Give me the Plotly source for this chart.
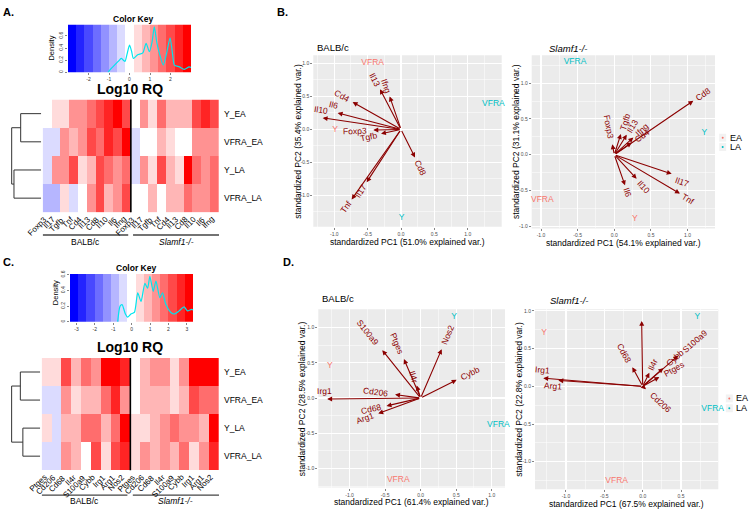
import math
import numpy as np
import plotly.graph_objects as go

W, H = 750, 510
FONT = "Liberation Sans, Arial, Helvetica, sans-serif"
DARKRED = "#8B0000"
EA_COL = "#F8766D"
LA_COL = "#00BFC4"
PANEL_BG = "#EBEBEB"

# ====================== DATA ======================
samples = ["Y_EA", "VFRA_EA", "Y_LA", "VFRA_LA"]
genes_A = ["Foxp3", "Il17", "Tgfb", "Tnf", "Cd4", "Il13", "Cd8", "Il10", "Il6", "Ifng"]
genes_C = ["Ptges", "Cd206", "Cd68", "Il4r", "S100a9", "Cybb", "Irg1", "Arg1", "Nos2"]
strains = ["BALB/c", "<i>Slamf1-/-</i>"]

# Heatmap A (log10 RQ): 10 BALB/c genes then 10 Slamf1-/- genes
heatA_Y_EA    = [0.0, 0.4, 0.4, 1.2, 1.2, 1.6, 2.0, 2.4, 2.8, 2.0,   0.0, 1.2, 0.4, 1.6, 0.8, 0.8, 0.8, 2.0, 2.4, 2.0]
heatA_VFRA_EA = [-0.4, -0.4, 1.2, 0.8, 1.2, 2.0, 1.6, 2.4, 2.0, 2.8, -0.4, 0.0, 0.0, 0.8, 0.4, 0.0, 0.0, 1.2, 1.2, 1.2]
heatA_Y_LA    = [-0.4, 1.2, 1.2, 2.0, 0.4, 0.8, 2.0, 1.6, 1.2, 1.6,  -0.4, 1.2, 0.4, 2.0, 0.8, 0.4, 2.8, 1.6, 1.2, 1.6]
heatA_VFRA_LA = [-0.8, -0.8, 0.4, -0.4, 0.0, 1.2, 2.0, 0.8, 1.2, 2.0, 0.0, 0.0, 0.8, 0.0, 0.8, 0.8, 1.6, 1.2, 1.2, 1.6]

# Heatmap C (log10 RQ): 9 BALB/c genes then 9 Slamf1-/- genes
heatC_Y_EA    = [0.45, 0.45, 2.25, 0.9, 1.8, 1.35, 3.15, 3.15, 2.7,    0.0, 0.9, 1.35, 1.35, 0.45, 1.35, 3.15, 3.15, 3.15]
heatC_VFRA_EA = [-0.45, -0.45, 1.35, 0.45, 0.9, 0.9, 1.8, 2.7, 1.35,  0.0, 0.9, 0.9, 0.9, 0.45, 0.9, 2.25, 1.8, 1.8]
heatC_Y_LA    = [0.45, -0.45, 0.9, 0.9, 1.8, 1.8, 0.9, 1.8, 3.15,     0.45, 0.45, 0.9, 1.35, 1.8, 1.35, 1.35, 0.9, 3.15]
heatC_VFRA_LA = [-0.45, -0.45, 1.35, 0.9, 0.0, 2.25, 0.45, 2.25, 2.7, 0.45, 1.35, 0.9, 1.35, 0.9, 1.8, 0.45, 1.35, 2.7]

# Colour keys: value range of the 15 colour bands
keyA_range = [-3.0, 3.0]
keyC_range = [-3.35, 3.35]
n_bands = 15

# Density curves in the colour keys
densA_x = [-1.05, -0.9, -0.73, -0.55, -0.40, -0.30, -0.22, -0.12, 0.0, 0.1, 0.19, 0.4, 0.65, 0.81,
           0.97, 1.1, 1.21, 1.33, 1.46, 1.65, 1.8, 1.98, 2.1, 2.19, 2.43, 2.67, 2.91, 3.0]
densA_y = [0.0, 0.06, 0.12, 0.18, 0.23, 0.20, 0.18, 0.30, 0.45, 0.35, 0.23, 0.29, 0.32, 0.48,
           0.34, 0.50, 0.75, 0.50, 0.31, 0.12, 0.30, 0.57, 0.30, 0.12, 0.09, 0.05, 0.09, 0.08]
densC_x = [-0.76, -0.63, -0.52, -0.34, -0.22, -0.04, 0.15, 0.33, 0.51, 0.72, 0.87, 0.99, 1.17,
           1.32, 1.53, 1.68, 1.86, 2.13, 2.31, 2.58, 2.85, 3.03, 3.26, 3.35]
densC_y = [0.0, 0.20, 0.22, 0.10, 0.06, 0.10, 0.12, 0.37, 0.26, 0.49, 0.43, 0.58, 0.39,
           0.52, 0.31, 0.37, 0.22, 0.12, 0.10, 0.14, 0.19, 0.14, 0.16, 0.15]

# Row dendrograms: height of (Y_EA,VFRA_EA) merge, (Y_LA,VFRA_LA) merge, root
dendA_heights = [0.695, 0.922, 1.0]
dendC_heights = [0.695, 0.607, 1.0]

# PCA biplots: loadings (arrow ends) per gene and sample scores
score_labels = ["Y", "VFRA", "Y", "VFRA"]
score_groups = ["EA", "EA", "LA", "LA"]

B1_load_x = [-0.415, -0.515, -0.30, -0.74, -0.725, -0.315, 0.21, -1.175, -0.95, -0.17]
B1_load_y = [-0.01, -0.80, -0.065, -1.06, 0.415, 0.61, -0.425, 0.175, 0.25, 0.50]
B1_score_x = [-0.99, -0.425, 0.01, 1.385]
B1_score_y = [0.0, 1.015, -1.34, 0.385]

B2_load_x = [-0.027, 0.783, 0.09, 0.896, 0.237, 0.17, 1.078, 0.305, 0.146, 0.26]
B2_load_y = [0.146, -0.267, 0.29, -0.543, 0.17, 0.28, 0.753, -0.336, -0.428, 0.24]
B2_score_x = [0.282, -0.982, 1.228, -0.536]
B2_score_y = [-0.902, -0.635, 0.308, 1.297]

D1_load_x = [-0.235, -0.36, -0.48, -0.056, -0.54, 0.507, -1.315, -0.596, 0.296]
D1_load_y = [0.553, 0.05, -0.112, 0.178, 0.68, 0.258, -0.014, -0.22, 0.693]
D1_score_x = [-1.277, -0.315, 0.47, 1.094]
D1_score_y = [0.459, -1.166, 1.147, -0.375]

D2_load_x = [0.217, 0.043, -0.135, 0.087, 0.465, 0.269, -1.296, -1.1, -0.013]
D2_load_y = [0.123, -0.04, 0.254, 0.18, 0.408, 0.241, 0.109, 0.079, 0.868]
D2_score_x = [-1.287, -0.339, 0.712, 0.913]
D2_score_y = [0.706, -1.259, 0.925, -0.303]

# ====================== HELPERS ======================
def dx(a, b):
    return [a / W, b / W]

def dy(top, bottom):
    return [1 - bottom / H, 1 - top / H]

def px(xp):
    return xp / W

def py(yp):
    return 1 - yp / H

def axkey(n, a):
    return f"{a}axis" if n == 1 else f"{a}axis{n}"

def ref(n, a):
    return a if n == 1 else f"{a}{n}"

AW = {'A': .667, 'B': .667, 'C': .722, 'D': .722, 'E': .667, 'F': .611, 'G': .778, 'I': .278, 'L': .556,
      'N': .722, 'P': .667, 'R': .722, 'S': .667, 'T': .611, 'V': .667, 'Y': .667,
      'a': .556, 'b': .556, 'c': .5, 'd': .556, 'e': .556, 'f': .278, 'g': .556, 'i': .222, 'l': .222,
      'm': .833, 'n': .556, 'o': .556, 'p': .556, 'r': .333, 's': .5, 't': .278, 'x': .5, 'y': .5}

def text_w(s, size):
    return sum(AW.get(c, 0.556) for c in s) * size

def band_colors(n):
    half = (n - 1) // 2
    cols = []
    for i in range(half):
        v = round(255 * i / half)
        cols.append(f"rgb({v},{v},255)")
    cols.append("rgb(255,255,255)")
    for i in range(1, half + 1):
        v = round(255 * (1 - i / half))
        cols.append(f"rgb(255,{v},{v})")
    return cols

BANDS = band_colors(n_bands)
SCALE = []
for k, c in enumerate(BANDS):
    SCALE.append([k / n_bands, c])
    SCALE.append([(k + 1) / n_bands, c])

fig = go.Figure()
layout = dict(width=W, height=H, margin=dict(l=0, r=0, t=0, b=0),
              paper_bgcolor="white", plot_bgcolor="white", showlegend=False,
              font=dict(family=FONT, color="black"))
annotations = []
shapes = []

def txt(x, y, s, size, color="black", bold=False, xanchor="center", yanchor="middle", angle=0,
        xref="paper", yref="paper"):
    if bold:
        s = f"<b>{s}</b>"
    annotations.append(dict(x=x, y=y, xref=xref, yref=yref, text=s, showarrow=False,
                            font=dict(size=size, color=color, family=FONT),
                            xanchor=xanchor, yanchor=yanchor, textangle=angle))

# ---------------- colour key ----------------
def key_panel(n, xpx, ypx, rng, ymax, xticks, yticks, dens_x, dens_y):
    edges = np.linspace(rng[0], rng[1], n_bands + 1)
    centers = (edges[:-1] + edges[1:]) / 2
    fig.add_trace(go.Heatmap(x=centers, y=[0, ymax], z=[centers, centers], colorscale=SCALE,
                             zmin=rng[0], zmax=rng[1], showscale=False, hoverinfo="skip",
                             xaxis=ref(n, "x"), yaxis=ref(n, "y")))
    fig.add_trace(go.Scatter(x=dens_x, y=dens_y, mode="lines",
                             line=dict(color="#00E5EE", width=1.2, shape="spline", smoothing=0.6),
                             hoverinfo="skip", xaxis=ref(n, "x"), yaxis=ref(n, "y")))
    layout[axkey(n, "x")] = dict(domain=dx(*xpx), range=rng, anchor=ref(n, "y"), showgrid=False,
                                 zeroline=False, tickvals=xticks, ticktext=[str(t) for t in xticks],
                                 ticks="outside", ticklen=2, tickwidth=0.6, tickcolor="#333",
                                 tickfont=dict(size=5, color="#333"), showline=False)
    layout[axkey(n, "y")] = dict(domain=dy(*ypx), range=[0, ymax], anchor=ref(n, "x"), showgrid=False,
                                 zeroline=False, tickvals=yticks, ticktext=[("0" if t == 0 else f"{t:.1f}") for t in yticks],
                                 ticks="outside", ticklen=2, tickwidth=0.6, tickcolor="#333", tickangle=-90,
                                 tickfont=dict(size=5, color="#333"), showline=False)

# ---------------- heatmap ----------------
COLLBL = 8

def heat_panel(n, xpx, ypx, rows, genes, rng, line_y, label_y):
    ncol = len(genes) * 2
    colw = (xpx[1] - xpx[0]) / ncol
    fig.add_trace(go.Heatmap(z=rows, x=list(range(ncol)), y=list(range(len(samples))), colorscale=SCALE,
                             zmin=rng[0], zmax=rng[1], showscale=False, hoverinfo="skip",
                             xaxis=ref(n, "x"), yaxis=ref(n, "y")))
    layout[axkey(n, "x")] = dict(domain=dx(*xpx), range=[-0.5, ncol - 0.5], anchor=ref(n, "y"),
                                 showgrid=False, zeroline=False, showticklabels=False, ticks="")
    layout[axkey(n, "y")] = dict(domain=dy(*ypx), range=[len(samples) - 0.5, -0.5], anchor=ref(n, "x"),
                                 showgrid=False, zeroline=False, tickvals=list(range(len(samples))),
                                 ticktext=samples, side="right", ticks="", ticklabelstandoff=4,
                                 tickfont=dict(size=8.5, color="black"))
    # rotated column labels ending just under each column
    for c, g in enumerate(genes + genes):
        annotations.append(dict(x=c + 2.8 / colw, y=py(ypx[1] + 1.5), xref=ref(n, "x"), yref="paper",
                                text=g, showarrow=False, textangle=-45, xanchor="right", yanchor="top",
                                font=dict(size=COLLBL, color="black", family=FONT), borderpad=0))
    half = ncol / 2 - 0.5
    shapes.append(dict(type="line", xref=ref(n, "x"), yref=f"{ref(n, 'y')} domain",
                       x0=half, x1=half, y0=0, y1=1, line=dict(color="black", width=1.6)))
    spans = [(-0.5, half - 0.3), (half + 0.25, ncol - 0.5)]
    for (a, b), s in zip(spans, strains):
        shapes.append(dict(type="line", xref=ref(n, "x"), yref="paper", x0=a, x1=b,
                           y0=py(line_y), y1=py(line_y), line=dict(color="#444", width=1.3)))
        txt((a + b) / 2, py(label_y), s, 8.5, xref=ref(n, "x"))

# ---------------- dendrogram ----------------
def dendro_panel(n, xpx, ypx, heights):
    h1, h2, hr = heights
    segs = [((0, 0), (h1, 0)), ((0, 1), (h1, 1)), ((h1, 0), (h1, 1)),
            ((0, 2), (h2, 2)), ((0, 3), (h2, 3)), ((h2, 2), (h2, 3)),
            ((h1, 0.5), (hr, 0.5)), ((h2, 2.5), (hr, 2.5)), ((hr, 0.5), (hr, 2.5))]
    xs, ys = [], []
    for (x0, y0), (x1, y1) in segs:
        xs += [x0, x1, None]
        ys += [y0, y1, None]
    fig.add_trace(go.Scatter(x=xs, y=ys, mode="lines", line=dict(color="#333", width=1),
                             hoverinfo="skip", xaxis=ref(n, "x"), yaxis=ref(n, "y")))
    layout[axkey(n, "x")] = dict(domain=dx(*xpx), range=[max(heights) * 1.05, 0], anchor=ref(n, "y"),
                                 visible=False)
    layout[axkey(n, "y")] = dict(domain=dy(*ypx), range=[3.5, -0.5], anchor=ref(n, "x"), visible=False)

# ---------------- PCA biplot ----------------
LBL = 8.5
# small pixel nudges (right, down) for a few crowded variable labels, as in the original
LABEL_NUDGE = {(7, "Il10"): (9, -6), (7, "Il6"): (3, -6), (8, "Il17"): (0, 5),
               (9, "Irg1"): (9, -8), (10, "Irg1"): (11, -7), (10, "Arg1"): (9, 7)}

def pca_panel(n, xpx, ypx, xr, yr, genes, lx, ly, sx, sy, title, xlab, ylab, title_x, title_y):
    xa, ya = ref(n, "x"), ref(n, "y")
    ppu = (xpx[1] - xpx[0]) / (xr[1] - xr[0])
    shapes.append(dict(type="rect", xref=f"{xa} domain", yref=f"{ya} domain", x0=0, x1=1, y0=0, y1=1,
                       fillcolor=PANEL_BG, line=dict(width=0), layer="below"))
    major = [-1.0, -0.5, 0.0, 0.5, 1.0]

    def minors(r):
        return [v for v in [-1.75, -1.25, -0.75, -0.25, 0.25, 0.75, 1.25, 1.75] if r[0] < v < r[1]]

    common = dict(showgrid=True, gridcolor="white", gridwidth=1.1, zeroline=False, showline=False,
                  tickvals=major, ticktext=[f"{v:.1f}" for v in major], ticks="outside", ticklen=2,
                  tickwidth=0.6, tickcolor="#333", tickfont=dict(size=5, color="#4D4D4D"))
    layout[axkey(n, "x")] = dict(domain=dx(*xpx), range=xr, anchor=ya,
                                 minor=dict(tickvals=minors(xr), showgrid=True, gridcolor="white",
                                            gridwidth=0.5, ticks=""), **common)
    layout[axkey(n, "y")] = dict(domain=dy(*ypx), range=yr, anchor=xa,
                                 minor=dict(tickvals=minors(yr), showgrid=True, gridcolor="white",
                                            gridwidth=0.5, ticks=""), **common)
    # arrows
    for g, x, y in zip(genes, lx, ly):
        annotations.append(dict(x=x, y=y, ax=0, ay=0, xref=xa, yref=ya, axref=xa, ayref=ya, text="",
                                showarrow=True, arrowhead=2, arrowsize=0.9, arrowwidth=1.1,
                                arrowcolor=DARKRED, standoff=0, startstandoff=0))
    # variable labels (ggbiplot style: rotated along arrow, beyond its head)
    for g, x, y in zip(genes, lx, ly):
        L = math.hypot(x, y)
        ux, uy = x / L, y / L
        off = (0.75 * text_w(g, LBL) + 0.5) / ppu
        nx, ny = LABEL_NUDGE.get((n, g), (0, 0))
        ang = math.degrees(math.atan(y / x)) if x != 0 else 90
        annotations.append(dict(x=x + ux * off + nx / ppu, y=y + uy * off - ny / ppu, xref=xa, yref=ya,
                                text=g, showarrow=False,
                                font=dict(size=LBL, color=DARKRED, family=FONT), textangle=-ang,
                                xanchor="center", yanchor="middle"))
    # sample scores as text
    cols = [EA_COL if g == "EA" else LA_COL for g in score_groups]
    fig.add_trace(go.Scatter(x=sx, y=sy, mode="text", text=score_labels, textposition="middle center",
                             textfont=dict(size=LBL, color=cols, family=FONT), cliponaxis=False,
                             hoverinfo="skip", xaxis=xa, yaxis=ya))
    txt(px(title_x), py(title_y), title, 9.5, xanchor="left")
    txt(px((xpx[0] + xpx[1]) / 2), py(ypx[1] + 15), xlab, 8.5)
    txt(px(xpx[0] - 15.5), py((ypx[0] + ypx[1]) / 2), ylab, 8.5, angle=-90)

def legend(xdot, ytop, gap):
    for i, (g, c) in enumerate([("EA", EA_COL), ("LA", LA_COL)]):
        yy = ytop + i * gap
        shapes.append(dict(type="rect", xref="paper", yref="paper", x0=px(xdot - 3.5), x1=px(xdot + 3.5),
                           y0=py(yy + 4), y1=py(yy - 4), fillcolor="#F2F2F2", line=dict(width=0)))
        shapes.append(dict(type="circle", xref="paper", yref="paper", x0=px(xdot - 1), x1=px(xdot + 1),
                           y0=py(yy + 1), y1=py(yy - 1), fillcolor=c, line=dict(width=0)))
        annotations.append(dict(x=px(xdot + 6), y=py(yy), xref="paper", yref="paper", text=g,
                                showarrow=False, font=dict(size=9, family=FONT, color="black"),
                                xanchor="left", yanchor="middle", borderpad=0))

# ====================== BUILD ======================
# Panel A
key_panel(1, (68, 191), (21, 69), keyA_range, 0.785, [-2, -1, 0, 1, 2], [0, 0.2, 0.4, 0.6], densA_x, densA_y)
heat_panel(2, (42.7, 219), (96.5, 210.3), [heatA_Y_EA, heatA_VFRA_EA, heatA_Y_LA, heatA_VFRA_LA],
           genes_A, keyA_range, 233.3, 240.5)
dendro_panel(3, (10.2, 41.2), (96.5, 210.3), dendA_heights)
txt(px(133), py(15), "Color Key", 8.5, bold=True)
txt(px(130), py(86), "Log10 RQ", 14, bold=True)
txt(px(52), py(45), "Density", 7.5, angle=-90)
txt(px(1), py(8), "A.", 11, bold=True, xanchor="left")

# Panel C
key_panel(4, (70, 193.3), (272.7, 321), keyC_range, 0.61, [-3, -2, -1, 0, 1, 2, 3], [0, 0.2, 0.4, 0.6],
          densC_x, densC_y)
heat_panel(5, (41.7, 219), (357.5, 470.8), [heatC_Y_EA, heatC_VFRA_EA, heatC_Y_LA, heatC_VFRA_LA],
           genes_C, keyC_range, 496, 501.5)
dendro_panel(6, (10.2, 40.2), (357.5, 470.8), dendC_heights)
txt(px(136), py(267), "Color Key", 8.5, bold=True)
txt(px(130), py(346.7), "Log10 RQ", 14, bold=True)
txt(px(55), py(292), "Density", 7.5, angle=-90)
txt(px(1), py(261), "C.", 11, bold=True, xanchor="left")

# Panel B
pca_panel(7, (313.3, 501.7), (51.7, 225), [-1.315, 1.51], [-1.475, 1.125], genes_A, B1_load_x, B1_load_y,
          B1_score_x, B1_score_y, "BALB/c", "standardized PC1 (51.0% explained var.)",
          "standardized PC2 (35.4% explained var.)", 315, 44)
pca_panel(8, (531.7, 715), (51.7, 226.7), [-1.127, 1.374], [-1.03, 1.39], genes_A, B2_load_x, B2_load_y,
          B2_score_x, B2_score_y, "<i>Slamf1-/-</i>", "standardized PC1 (54.1% explained var.)",
          "standardized PC2 (31.1% explained var.)", 546.7, 45)
legend(722.7, 135, 9.5)
txt(px(275), py(8), "B.", 11, bold=True, xanchor="left")

# Panel D
pca_panel(9, (318.3, 505), (308.3, 488.3), [-1.44, 1.187], [-1.27, 1.26], genes_C, D1_load_x, D1_load_y,
          D1_score_x, D1_score_y, "BALB/c", "standardized PC1 (61.4% explained var.)",
          "standardized PC2 (28.5% explained var.)", 320, 297)
pca_panel(10, (535, 718.3), (308.3, 490), [-1.404, 0.986], [-1.364, 1.022], genes_C, D2_load_x, D2_load_y,
          D2_score_x, D2_score_y, "<i>Slamf1-/-</i>", "standardized PC1 (67.5% explained var.)",
          "standardized PC2 (22.8% explained var.)", 548.3, 299)
legend(729.3, 398.3, 10)
txt(px(281), py(261), "D.", 11, bold=True, xanchor="left")

layout["annotations"] = annotations
layout["shapes"] = shapes
fig.update_layout(**layout)
fig.write_html("out.html", config={"displayModeBar": False, "staticPlot": True},
               post_script="document.body.style.margin='0px';document.body.style.overflow='hidden';")
